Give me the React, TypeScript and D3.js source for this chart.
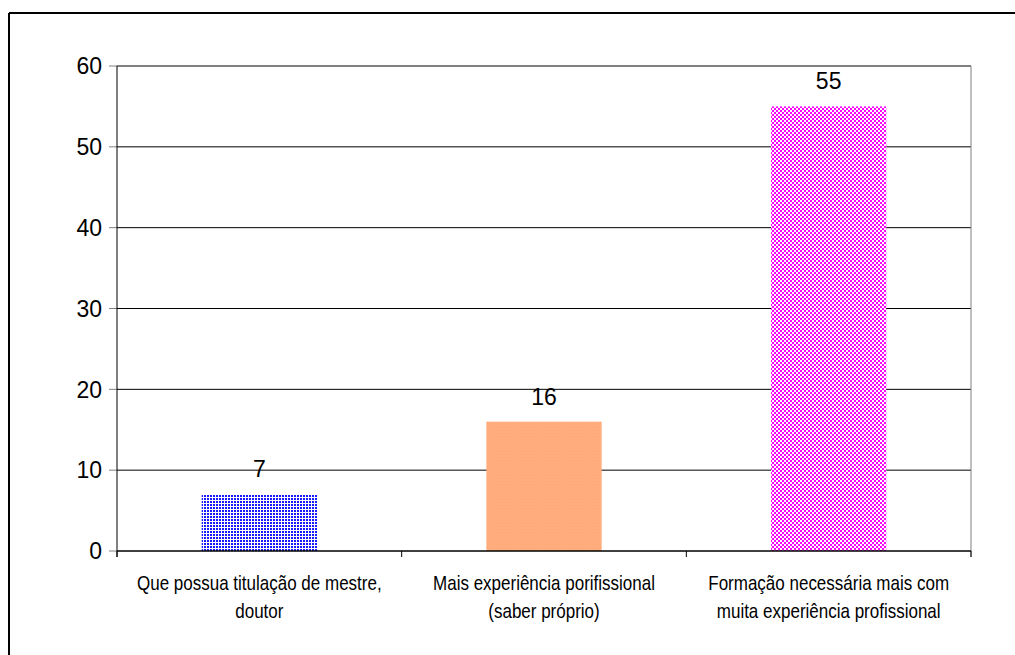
import React from "react";
import * as d3 from "d3";

const categories: string[][] = [
  ["Que possua titulação de mestre,", "doutor"],
  ["Mais experiência porifissional", "(saber próprio)"],
  ["Formação necessária mais com", "muita experiência profissional"],
];
const values: number[] = [7, 16, 55];
const yTicks: number[] = [0, 10, 20, 30, 40, 50, 60];
const fills: string[] = ["url(#patBlue)", "url(#patOrange)", "url(#patMagenta)"];

const W = 1015;
const H = 655;
const left = 117;
const right = 971;
const top = 66;
const bottom = 551;

export default function App() {
  const x = d3
    .scaleBand<number>()
    .domain(values.map((_, i) => i))
    .range([left, right])
    .paddingInner(0)
    .paddingOuter(0);
  const y = d3.scaleLinear().domain([0, 60]).range([bottom, top]);
  const barW = x.bandwidth() * 0.405;

  return (
    <svg
      width={W}
      height={H}
      style={{ position: "absolute", left: 0, top: 0, background: "#fff" }}
      fontFamily="'Liberation Sans', Arial, sans-serif"
    >
      <defs>
        <pattern id="patBlue" width={3} height={3} patternUnits="userSpaceOnUse">
          <rect width={3} height={3} fill="#ffffff" />
          <rect width={2} height={2} fill="#1a1aff" />
        </pattern>
        <pattern id="patOrange" width={3} height={3} patternUnits="userSpaceOnUse">
          <rect width={3} height={3} fill="#ffad7c" />
          <rect x={1} y={1} width={1} height={1} fill="#ffa877" />
        </pattern>
        <pattern id="patMagenta" width={4} height={4} patternUnits="userSpaceOnUse">
          <rect width={4} height={4} fill="#ff00ff" />
          <rect x={0} y={0} width={2} height={2} fill="#ffffff" />
          <rect x={2} y={2} width={2} height={2} fill="#ffffff" />
        </pattern>
      </defs>

      {/* outer frame */}
      <line x1={9} y1={13} x2={W} y2={13} stroke="#000" strokeWidth={2} />
      <line x1={9} y1={13} x2={9} y2={H} stroke="#000" strokeWidth={2} />

      {/* gridlines and y ticks */}
      {yTicks.map((t) => (
        <g key={t}>
          {t > 0 && (
            <line x1={left} x2={right} y1={y(t)} y2={y(t)} stroke="#000" strokeWidth={1} />
          )}
          <line x1={left - 8} x2={left} y1={y(t)} y2={y(t)} stroke="#808080" strokeWidth={1} />
          <text x={102} y={y(t)} dy="0.36em" textAnchor="end" fontSize={23} fill="#000">
            {t}
          </text>
        </g>
      ))}
      {/* right edge of plot area */}
      <line x1={right} x2={right} y1={top} y2={bottom + 6} stroke="#808080" strokeWidth={1} />

      {/* bars */}
      {values.map((v, i) => {
        const cx = (x(i) as number) + x.bandwidth() / 2;
        return (
          <g key={i}>
            <rect x={cx - barW / 2} y={y(v)} width={barW} height={y(0) - y(v)} fill={fills[i]} />
            <text x={cx} y={y(v) - 17} textAnchor="middle" fontSize={23} fill="#000">
              {v}
            </text>
          </g>
        );
      })}

      {/* axes */}
      <line x1={left} x2={left} y1={top} y2={bottom + 6} stroke="#000" strokeWidth={1} />
      <line x1={left} x2={right} y1={bottom} y2={bottom} stroke="#000" strokeWidth={1.5} />
      {d3.range(values.length + 1).map((k) => {
        const xx = k < values.length ? (x(k) as number) : right;
        return (
          <line key={k} x1={xx} x2={xx} y1={bottom} y2={bottom + 6} stroke="#000" strokeWidth={1} />
        );
      })}

      {/* category labels, horizontally condensed */}
      {categories.map((lines, i) => {
        const cx = (x(i) as number) + x.bandwidth() / 2;
        return (
          <g key={i} transform={`translate(${cx},0) scale(0.85,1)`}>
            <text textAnchor="middle" fontSize={20} fill="#000">
              {lines.map((ln, j) => (
                <tspan key={j} x={0} y={590 + j * 28}>
                  {ln}
                </tspan>
              ))}
            </text>
          </g>
        );
      })}
    </svg>
  );
}
